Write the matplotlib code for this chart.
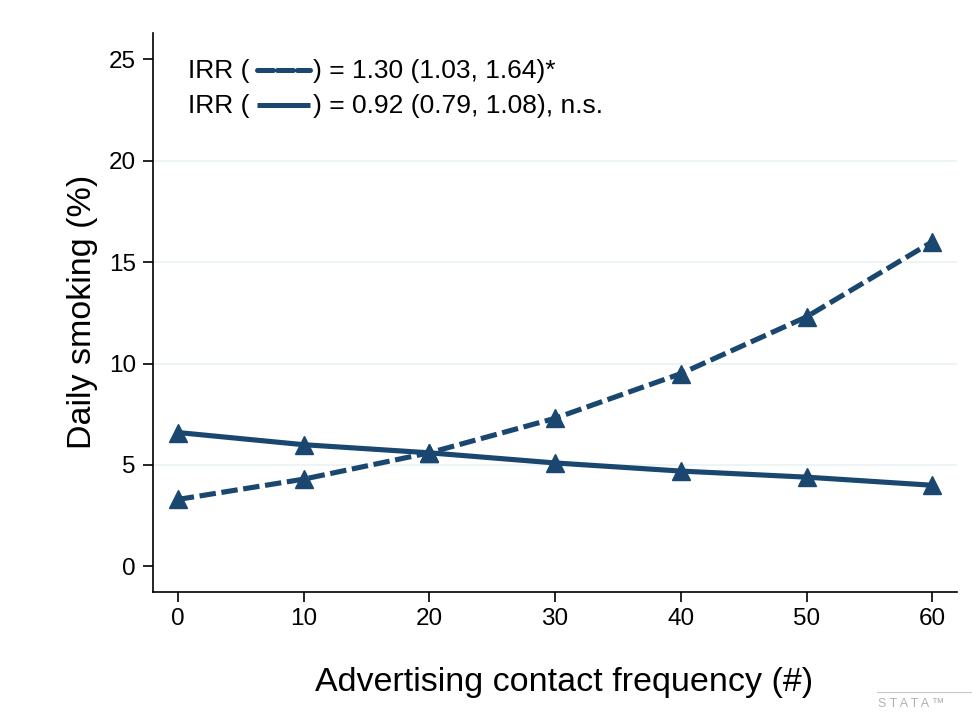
import numpy as np
import matplotlib.pyplot as plt
from matplotlib.lines import Line2D

plt.rcParams['font.family'] = ['Liberation Sans', 'DejaVu Sans']

contacts = [0, 10, 20, 30, 40, 50, 60]
smoke_dashed = [3.3, 4.3, 5.6, 7.3, 9.5, 12.3, 16.0]
smoke_solid = [6.6, 6.0, 5.6, 5.1, 4.7, 4.4, 4.0]
legend_dashed = 'IRR (', ') = 1.30 (1.03, 1.64)*'
legend_solid = 'IRR (', ') = 0.92 (0.79, 1.08), n.s.'

navy = '#1a476f'

fig = plt.figure(figsize=(9.72, 7.13), dpi=100)
ax = fig.add_axes([0.157, 0.170, 0.828, 0.784])

for y in [5, 10, 15, 20]:
    ax.axhline(y, color='#eaf2f3', lw=1.2, zorder=0)

ax.plot(contacts, smoke_dashed, color=navy, lw=3.7, ls=(0, (3.2, 1.1)),
        marker='^', ms=13, zorder=3)
ax.plot(contacts, smoke_solid, color=navy, lw=3.7, ls='-',
        marker='^', ms=13, zorder=3)

ax.set_xlim(-2, 62)
ax.set_ylim(-1.25, 26.3)
ax.set_xticks(contacts)
ax.set_yticks([0, 5, 10, 15, 20, 25])
for s in ['top', 'right']:
    ax.spines[s].set_visible(False)
for s in ['left', 'bottom']:
    ax.spines[s].set_linewidth(1.2)
ax.tick_params(labelsize=17.5, length=7, width=1.2, pad=5)
ax.set_xlabel('Advertising contact frequency (#)', fontsize=24.5)
ax.xaxis.set_label_coords(0.511, -0.163)
ax.xaxis.label.set_va('center')
ax.set_ylabel('Daily smoking (%)', fontsize=24.5, labelpad=8)

# legend text with line samples
W, H = 972, 713
rows = [(legend_dashed, 71, (0, (3.2, 0.8))), (legend_solid, 106, '-')]
for (pre, post), ypx, ls in rows:
    yf = 1 - ypx / H
    fig.text(188 / W, yf, pre, fontsize=19, va='center', ha='left')
    fig.text(313 / W, yf, post, fontsize=19, va='center', ha='left')
    fig.add_artist(Line2D([257 / W, 310 / W], [yf + 0.001, yf + 0.001],
                          transform=fig.transFigure, color=navy, lw=3.6,
                          ls=ls, solid_capstyle='butt', dash_capstyle='round'))

# stata watermark
fig.add_artist(Line2D([877 / W, 1.0], [1 - 692 / H, 1 - 692 / H],
                      transform=fig.transFigure, color='#c8c8c8', lw=0.8))
fig.text(878 / W, 1 - 704 / H, 'S T A T A \u2122', fontsize=9, color='#b0b0b0',
         va='center', ha='left')

fig.savefig('out.png', dpi=100, facecolor='white')
